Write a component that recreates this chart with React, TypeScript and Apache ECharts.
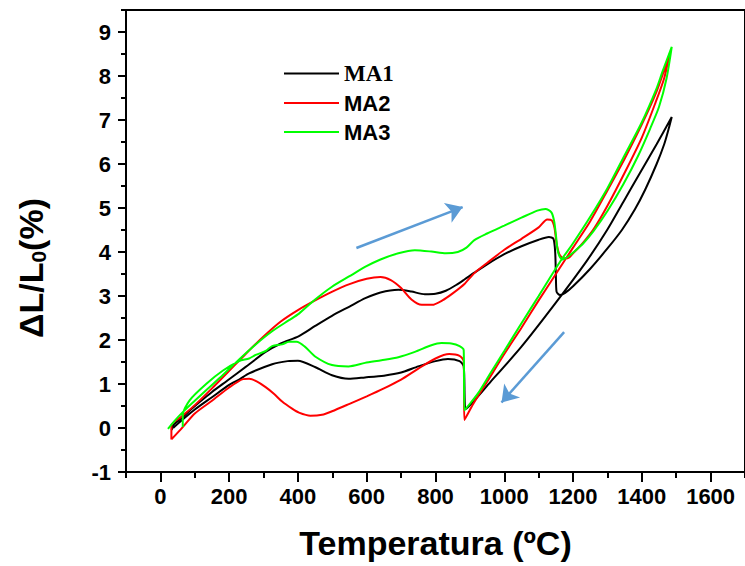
import React, { useEffect, useRef } from "react";
import * as echarts from "echarts";

// Tick positions
const xMajorTicks = [0, 200, 400, 600, 800, 1000, 1200, 1400, 1600];
const xMinorTicks = [-100, 100, 300, 500, 700, 900, 1100, 1300, 1500, 1700];
const yMajorTicks = [-1, 0, 1, 2, 3, 4, 5, 6, 7, 8, 9];
const yMinorTicks = [-0.5, 0.5, 1.5, 2.5, 3.5, 4.5, 5.5, 6.5, 7.5, 8.5, 9.5];

const seriesNames = ["MA1", "MA2", "MA3"];
const seriesColors = ["#000000", "#ff0000", "#00ff00"];

// MA1: heating then cooling (Temperature °C, ΔL/L0 %)
const ma1: number[][] = [
  [33, -0.05], [37, 0.06], [60, 0.22], [80, 0.36], [114, 0.59], [150, 0.82], [195, 1.08],
  [250, 1.4], [306, 1.73], [350, 1.92], [403, 2.09], [450, 2.32], [499, 2.55], [550, 2.76],
  [596, 2.95], [640, 3.08], [692, 3.14], [730, 3.1], [769, 3.04], [800, 3.05], [830, 3.12],
  [860, 3.25], [885, 3.38], [913, 3.53], [950, 3.72], [1000, 3.95], [1050, 4.13], [1100, 4.28],
  [1130, 4.34], [1143, 4.3], [1148, 4.0], [1150, 3.5], [1152, 3.1], [1162, 3.02], [1177, 3.07],
  [1200, 3.22], [1250, 3.62], [1300, 4.08], [1342, 4.5], [1380, 4.97], [1410, 5.42], [1443, 6.0],
  [1465, 6.45], [1478, 6.8], [1487, 7.07],
  [1443, 6.45], [1395, 5.8], [1347, 5.15], [1299, 4.5], [1240, 3.8], [1150, 2.85], [1050, 1.85],
  [960, 1.05], [889, 0.44], [882, 1.4], [870, 1.52], [836, 1.57], [800, 1.52], [750, 1.4],
  [700, 1.26], [650, 1.19], [595, 1.15], [547, 1.12], [499, 1.2], [451, 1.38], [400, 1.53],
  [370, 1.52], [325, 1.45], [258, 1.24], [229, 1.1], [200, 0.98], [150, 0.7], [100, 0.42],
  [60, 0.16], [37, 0.0],
];

const ma2: number[][] = [
  [32, -0.26], [32, 0.06], [60, 0.25], [100, 0.52], [150, 0.9], [200, 1.3], [250, 1.7],
  [300, 2.08], [350, 2.42], [400, 2.68], [450, 2.9], [500, 3.1], [550, 3.27], [600, 3.39],
  [640, 3.43], [670, 3.36], [700, 3.18], [730, 2.92], [760, 2.8], [790, 2.8], [820, 2.9],
  [850, 3.06], [885, 3.28], [913, 3.52], [950, 3.75], [1000, 4.05], [1050, 4.3], [1100, 4.56],
  [1125, 4.74], [1138, 4.72], [1146, 4.55], [1152, 4.2], [1160, 3.95], [1172, 3.86], [1185, 3.86],
  [1200, 3.97], [1230, 4.22], [1260, 4.52], [1300, 5.05], [1350, 5.8], [1400, 6.6], [1440, 7.4],
  [1465, 7.95], [1481, 8.5],
  [1443, 7.65], [1400, 6.9], [1350, 6.12], [1300, 5.4], [1250, 4.7], [1200, 4.1], [1150, 3.5],
  [1100, 2.9], [1050, 2.28], [1000, 1.68], [950, 1.05], [910, 0.55], [884, 0.18], [882, 1.52],
  [870, 1.64], [840, 1.68], [800, 1.58], [750, 1.35], [700, 1.1], [650, 0.9], [600, 0.72],
  [550, 0.55], [499, 0.38], [470, 0.3], [436, 0.28], [403, 0.35], [383, 0.44], [354, 0.6],
  [330, 0.78], [306, 0.93], [280, 1.06], [258, 1.12], [240, 1.11], [200, 0.92], [150, 0.62],
  [100, 0.33], [65, 0.02], [32, -0.26],
];

const ma3: number[][] = [
  [22, -0.02], [40, 0.15], [65, 0.36], [100, 0.62], [133, 0.86], [181, 1.2], [229, 1.56],
  [277, 1.9], [325, 2.2], [374, 2.45], [403, 2.6], [450, 2.92], [499, 3.21], [550, 3.45],
  [595, 3.66], [640, 3.83], [692, 3.97], [740, 4.04], [788, 4.01], [830, 3.97], [865, 4.0],
  [890, 4.1], [913, 4.27], [950, 4.42], [1000, 4.6], [1050, 4.78], [1096, 4.94], [1120, 4.98],
  [1137, 4.9], [1145, 4.7], [1150, 4.4], [1155, 4.05], [1162, 3.88], [1170, 3.83], [1183, 3.88],
  [1202, 4.0], [1230, 4.2], [1260, 4.48], [1300, 4.93], [1347, 5.55], [1390, 6.2], [1424, 6.8],
  [1450, 7.3], [1472, 7.95], [1487, 8.66],
  [1460, 8.1], [1443, 7.72], [1400, 6.95], [1350, 6.2], [1300, 5.45], [1250, 4.8], [1200, 4.2],
  [1164, 3.8], [1100, 3.0], [1050, 2.38], [1000, 1.75], [960, 1.25], [923, 0.78], [884, 0.4],
  [882, 1.77], [870, 1.86], [846, 1.92], [817, 1.93], [788, 1.88], [740, 1.73], [692, 1.61],
  [643, 1.54], [595, 1.48], [547, 1.4], [499, 1.43], [451, 1.62], [420, 1.85], [396, 1.96],
  [374, 1.96], [354, 1.9], [325, 1.86], [306, 1.75], [277, 1.66], [258, 1.58], [229, 1.52],
  [181, 1.3], [133, 1.0], [85, 0.63], [65, 0.29], [65, 0.02],
];

// Direction arrows (heating / cooling), in data coordinates
const arrowHeating = [[570, 4.09], [879, 5.02]];
const arrowCooling = [[1174, 2.18], [992, 0.58]];

const SANS = "'Liberation Sans', Arial, sans-serif";
const SERIF = "'Liberation Serif', 'Times New Roman', serif";

export default function App() {
  const ref = useRef<HTMLDivElement>(null);

  useEffect(() => {
    const chart = echarts.init(ref.current!, null, { renderer: "svg" });
    const labelStyle = { fontSize: 22, fontWeight: "bold", color: "#000", fontFamily: SANS };
    const fmt = (v: number) => String(v);
    const dataSets = [ma1, ma2, ma3];
    chart.setOption({
      animation: false,
      backgroundColor: "#fff",
      grid: {
        left: 126,
        top: 10,
        right: -4,
        bottom: 94,
        show: true,
        borderColor: "#000",
        borderWidth: 2,
        containLabel: false,
      },
      legend: {
        data: seriesNames,
        orient: "vertical",
        left: 279,
        top: 57,
        icon: "rect",
        itemWidth: 55,
        itemHeight: 2,
        itemGap: 7,
        formatter: (name: string) => (name === "MA1" ? `{serif|${name}}` : `{sans|${name}}`),
        textStyle: {
          rich: {
            serif: { fontFamily: SERIF, fontWeight: "bold", fontSize: 23, color: "#000", lineHeight: 24 },
            sans: { fontFamily: SANS, fontWeight: "bold", fontSize: 22, color: "#000", lineHeight: 24 },
          },
        },
      },
      xAxis: [
        {
          type: "value",
          min: -100,
          max: 1700,
          position: "bottom",
          name: "Temperatura (ºC)",
          nameLocation: "middle",
          nameGap: 54,
          nameTextStyle: { fontSize: 34, fontWeight: "bold", color: "#000", fontFamily: SANS },
          axisLine: { show: true, onZero: false, lineStyle: { color: "#000", width: 2 } },
          axisTick: { show: true, customValues: xMajorTicks, length: 10, lineStyle: { color: "#000", width: 2 } },
          axisLabel: { show: true, customValues: xMajorTicks, margin: 13, formatter: fmt, ...labelStyle },
          splitLine: { show: false },
        },
        {
          type: "value",
          min: -100,
          max: 1700,
          position: "bottom",
          axisLine: { show: false, onZero: false },
          axisTick: { show: true, customValues: xMinorTicks, length: 6, lineStyle: { color: "#000", width: 2 } },
          axisLabel: { show: false },
          splitLine: { show: false },
        },
      ],
      yAxis: [
        {
          type: "value",
          min: -1,
          max: 9.5,
          position: "left",
          axisLine: { show: true, onZero: false, lineStyle: { color: "#000", width: 2 } },
          axisTick: { show: true, customValues: yMajorTicks, length: 8, lineStyle: { color: "#000", width: 2 } },
          axisLabel: { show: true, customValues: yMajorTicks, margin: 15, formatter: fmt, ...labelStyle },
          splitLine: { show: false },
        },
        {
          type: "value",
          min: -1,
          max: 9.5,
          position: "left",
          axisLine: { show: false, onZero: false },
          axisTick: { show: true, customValues: yMinorTicks, length: 5, lineStyle: { color: "#000", width: 2 } },
          axisLabel: { show: false },
          splitLine: { show: false },
        },
      ],
      graphic: [
        {
          type: "text",
          x: 31,
          y: 268,
          rotation: Math.PI / 2,
          style: {
            text: "{a|ΔL/L}{s|0}{a|(%)}",
            align: "center",
            verticalAlign: "middle",
            fill: "#000",
            rich: {
              a: { fontSize: 34, fontWeight: "bold", fontFamily: SANS, fill: "#000" },
              s: { fontSize: 21, fontWeight: "bold", fontFamily: SANS, fill: "#000", padding: [15, 0, 0, 0] },
            },
          },
        },
      ],
      series: [
        ...dataSets.map((d, i) => ({
          name: seriesNames[i],
          type: "line",
          data: d,
          xAxisIndex: 0,
          yAxisIndex: 0,
          symbol: "none",
          showSymbol: false,
          smooth: 0.25,
          lineStyle: { color: seriesColors[i], width: 2 },
          itemStyle: { color: seriesColors[i] },
          z: 3 + i,
        })),
        {
          type: "lines",
          coordinateSystem: "cartesian2d",
          xAxisIndex: 0,
          yAxisIndex: 0,
          symbol: ["none", "arrow"],
          symbolSize: 16,
          silent: true,
          lineStyle: { color: "#5b9bd5", width: 2.5, opacity: 1, curveness: 0 },
          data: [{ coords: arrowHeating }, { coords: arrowCooling }],
          z: 2,
        },
      ],
    });
    return () => chart.dispose();
  }, []);

  return (
    <div
      ref={ref}
      style={{ position: "fixed", left: 0, top: 0, width: 745, height: 566, background: "#fff" }}
    />
  );
}
